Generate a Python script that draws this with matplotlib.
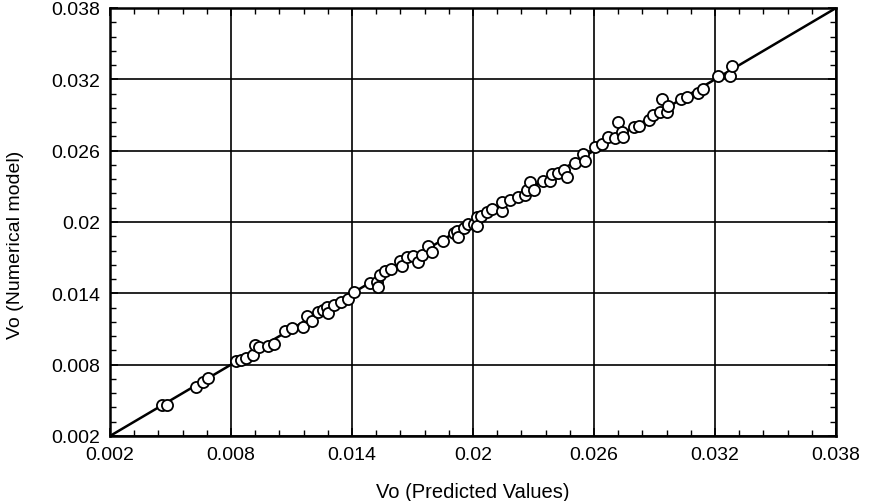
import matplotlib.pyplot as plt
from matplotlib.ticker import AutoMinorLocator

# Predicted vs numerical Vo values
vo_pred = [0.00456, 0.00481, 0.00625, 0.00661, 0.00686, 0.00825, 0.00850, 0.00874,
           0.00909, 0.00919, 0.00939, 0.00983, 0.01013, 0.01068, 0.01102, 0.01157,
           0.01175, 0.01200, 0.01233, 0.01258, 0.01275, 0.01282, 0.01311, 0.01345,
           0.01378, 0.01410, 0.01489, 0.01522, 0.01530, 0.01539, 0.01564, 0.01593,
           0.01638, 0.01646, 0.01675, 0.01702, 0.01729, 0.01746, 0.01778, 0.01799,
           0.01849, 0.01906, 0.01919, 0.01927, 0.01955, 0.01977, 0.02005, 0.02018,
           0.02018, 0.02040, 0.02069, 0.02094, 0.02142, 0.02142, 0.02183, 0.02221,
           0.02258, 0.02266, 0.02283, 0.02302, 0.02345, 0.02382, 0.02390, 0.02423,
           0.02451, 0.02465, 0.02506, 0.02547, 0.02555, 0.02605, 0.02638, 0.02667,
           0.02704, 0.02720, 0.02741, 0.02745, 0.02798, 0.02823, 0.02873, 0.02894,
           0.02927, 0.02936, 0.02960, 0.02968, 0.03031, 0.03060, 0.03117, 0.03142,
           0.03216, 0.03274, 0.03283]
vo_num = [0.00463, 0.00461, 0.00612, 0.00657, 0.00688, 0.00831, 0.00839, 0.00856,
          0.00884, 0.00965, 0.00949, 0.00957, 0.00974, 0.01086, 0.01108, 0.01114,
          0.01212, 0.01170, 0.01243, 0.01260, 0.01289, 0.01235, 0.01302, 0.01325,
          0.01352, 0.01409, 0.01487, 0.01495, 0.01457, 0.01554, 0.01584, 0.01605,
          0.01668, 0.01632, 0.01703, 0.01717, 0.01661, 0.01722, 0.01801, 0.01745,
          0.01843, 0.01907, 0.01927, 0.01871, 0.01950, 0.01979, 0.01983, 0.02040,
          0.01969, 0.02053, 0.02084, 0.02109, 0.02095, 0.02166, 0.02185, 0.02208,
          0.02231, 0.02273, 0.02334, 0.02269, 0.02345, 0.02347, 0.02404, 0.02412,
          0.02437, 0.02376, 0.02496, 0.02572, 0.02509, 0.02628, 0.02656, 0.02712,
          0.02707, 0.02845, 0.02760, 0.02712, 0.02796, 0.02810, 0.02854, 0.02904,
          0.02929, 0.03035, 0.02923, 0.02978, 0.03035, 0.03049, 0.03089, 0.03115,
          0.03226, 0.03231, 0.03315]

lims = [0.002, 0.038]
ticks = [0.002, 0.008, 0.014, 0.02, 0.026, 0.032, 0.038]
tick_labels = ['0.002', '0.008', '0.014', '0.02', '0.026', '0.032', '0.038']

plt.rcParams['font.family'] = ['Liberation Sans', 'DejaVu Sans']

fig = plt.figure(figsize=(8.7, 5.02), dpi=100)
ax = fig.add_axes([0.1264, 0.1295, 0.8346, 0.8526])

ax.plot(lims, lims, color='black', lw=1.8, zorder=2)
ax.plot(vo_pred, vo_num, 'o', mfc='white', mec='black', mew=1.3, ms=8, zorder=3)

ax.set_xlim(lims)
ax.set_ylim(lims)
ax.set_xticks(ticks)
ax.set_yticks(ticks)
ax.set_xticklabels(tick_labels)
ax.set_yticklabels(tick_labels)
ax.xaxis.set_minor_locator(AutoMinorLocator(5))
ax.yaxis.set_minor_locator(AutoMinorLocator(5))
ax.tick_params(which='both', direction='in', top=True, right=True, labelsize=14)
ax.tick_params(which='major', length=6, width=1.2, pad=7)
ax.tick_params(which='minor', length=4, width=1)
ax.grid(True, which='major', color='black', lw=1.2)

for s in ax.spines.values():
    s.set_linewidth(1.8)

ax.set_xlabel('Vo (Predicted Values)', fontsize=14.5, labelpad=14)
ax.set_ylabel('Vo (Numerical model)', fontsize=14, labelpad=10)
ax.yaxis.set_label_coords(-0.118, 0.45)

fig.savefig('out.png', dpi=100)
